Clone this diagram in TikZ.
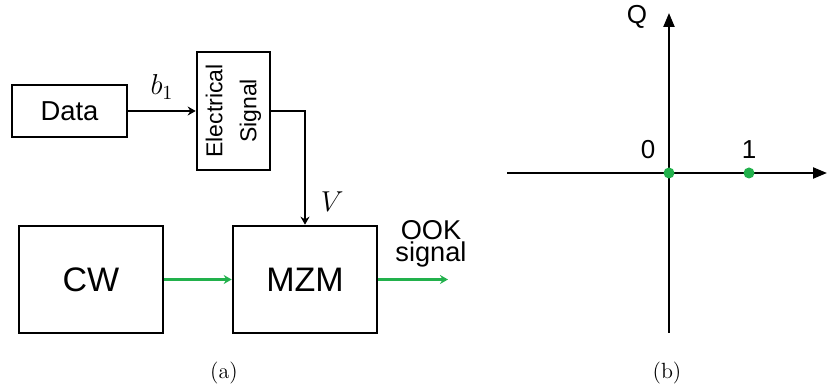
\documentclass[tikz,border=0pt]{standalone}
\usepackage{fontspec}
\newfontfamily\arial{Liberation Sans}
\usepackage{tikz}
\usetikzlibrary{arrows.meta,positioning,calc}
\definecolor{ookgreen}{RGB}{34,177,76}
\tikzset{
    blk/.style={rectangle, draw=black, line width=1.3pt, inner sep=0pt,
                minimum width=#1, align=center},
    arr/.style={-{Stealth[length=4pt,width=4.5pt]}, line width=1.1pt},
    garr/.style={-{Stealth[length=4pt,width=4.5pt]}, line width=1.3pt, draw=ookgreen},
    axis/.style={-{Triangle[length=7pt,width=5.5pt]}, line width=1.1pt},
    cpt/.style={circle, fill=ookgreen, inner sep=0pt, minimum size=5.5pt},
    lbl/.style={font=\arial\fontsize{13}{15}\selectfont, inner sep=0pt},
}

\begin{document}
\begin{tikzpicture}[x=0.5pt, y=-0.5pt]
    \useasboundingbox (0,0) rectangle (827,389);

    % (a) transmitter
    \node[blk=57.5pt, minimum height=26pt, font=\arial\fontsize{13.7}{16}\selectfont]
        (data) at (69.5,111) {Data};
    \node[blk=36.5pt, minimum height=59pt] (es) at (233.5,111) {};
    \node[rotate=90, align=center, font=\arial\fontsize{11.5}{17}\selectfont]
        (estxt) at (es.center) {Electrical\\Signal};
    \node[blk=72pt, minimum height=53.5pt, font=\arial\fontsize{17}{20}\selectfont]
        (cw) at (91,279.5) {CW};
    \node[blk=72pt, minimum height=53.5pt, font=\arial\fontsize{17}{20}\selectfont]
        (mzm) at (305,279.5) {MZM};
    \coordinate (out) at (448,279.5);

    \draw[arr] (data) -- node[above=2pt, font=\fontsize{14}{16}\selectfont] (b1) {$b_1$} (es);
    \draw[arr] (es.east) -| node[pos=0.9, right=4pt, font=\fontsize{14}{16}\selectfont] (v) {$V$} (mzm.north);
    \draw[garr] (cw) -- (mzm);
    \draw[garr] (mzm) -- (out);
    \node[inner sep=0pt, anchor=base, font=\arial\fontsize{13.6}{16}\selectfont]
        (ook) at (431,240) {OOK};
    \node[inner sep=0pt, anchor=base, font=\arial\fontsize{13.6}{16}\selectfont]
        (sig) at (431,262) {signal};

    % (b) constellation
    \coordinate (o) at (669,173);
    \coordinate (xl) at (507,173);
    \coordinate (xr) at (827,173);
    \coordinate (yb) at (669,333);
    \coordinate (yt) at (669,13);
    \draw[axis] (xl) -- (xr);
    \draw[axis] (yb) -- (yt);
    \node[cpt] (s0) at (o) {};
    \node[cpt] (s1) at (749,173) {};
    \node[lbl] (l0) at (648,150) {0};
    \node[lbl] (l1) at (749,150) {1};
    \node[lbl] (q) at (637,17) {Q};

    % captions
    \node[font=\fontsize{11}{13}\selectfont] (capa) at (224,373) {(a)};
    \node[font=\fontsize{11}{13}\selectfont] (capb) at (667,373) {(b)};
\end{tikzpicture}
\end{document}
